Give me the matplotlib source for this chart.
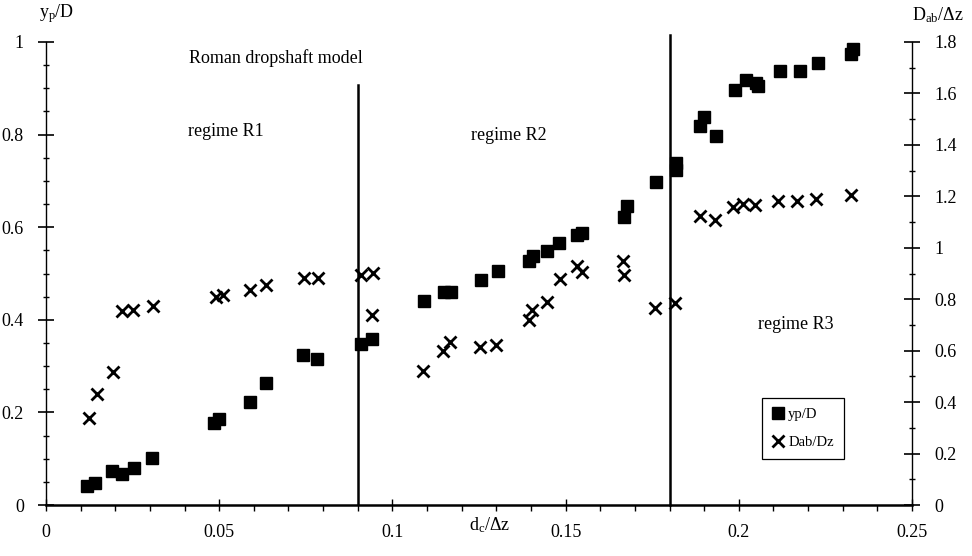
import matplotlib
matplotlib.use("Agg")
import matplotlib.pyplot as plt
from matplotlib.ticker import MultipleLocator

plt.rcParams['font.family'] = ['Liberation Serif', 'DejaVu Serif']
plt.rcParams['mathtext.fontset'] = 'custom'
plt.rcParams['mathtext.rm'] = 'Liberation Serif'
plt.rcParams['mathtext.it'] = 'Liberation Serif:italic'

# data: yp/D (left axis)
yp_x = [0.0118, 0.0142, 0.019, 0.022, 0.0253, 0.0307, 0.0485, 0.050, 0.059, 0.0635,
        0.0742, 0.0783, 0.0909, 0.094, 0.109, 0.1148, 0.1169, 0.1257, 0.1304, 0.1394,
        0.1406, 0.1447, 0.1481, 0.1534, 0.1547, 0.1668, 0.1676, 0.176, 0.1818, 0.182,
        0.1887, 0.190, 0.1934, 0.1989, 0.2022, 0.2051, 0.2055, 0.2119, 0.2177, 0.223,
        0.2325, 0.233]
yp_y = [0.041, 0.048, 0.073, 0.066, 0.079, 0.101, 0.178, 0.186, 0.223, 0.263,
        0.323, 0.315, 0.348, 0.358, 0.441, 0.459, 0.459, 0.487, 0.506, 0.528,
        0.538, 0.549, 0.565, 0.583, 0.588, 0.622, 0.645, 0.698, 0.738, 0.724,
        0.819, 0.839, 0.797, 0.896, 0.919, 0.912, 0.905, 0.938, 0.938, 0.955,
        0.975, 0.985]

# data: Dab/Dz (right axis)
dab_x = [0.0123, 0.0147, 0.0194, 0.022, 0.025, 0.031, 0.049, 0.051, 0.059, 0.0635,
         0.0745, 0.0786, 0.0909, 0.0945, 0.0942, 0.1087, 0.1145, 0.1167, 0.1254, 0.130,
         0.1394, 0.1402, 0.1445, 0.1483, 0.1534, 0.1547, 0.1665, 0.1670, 0.1757, 0.1815,
         0.1887, 0.1931, 0.1982, 0.2013, 0.2047, 0.2114, 0.2169, 0.2224, 0.2324]
dab_y = [0.337, 0.432, 0.517, 0.756, 0.760, 0.774, 0.810, 0.815, 0.837, 0.855,
         0.882, 0.882, 0.894, 0.901, 0.739, 0.522, 0.600, 0.635, 0.613, 0.622,
         0.719, 0.758, 0.790, 0.878, 0.929, 0.907, 0.950, 0.894, 0.765, 0.787,
         1.124, 1.108, 1.160, 1.170, 1.166, 1.182, 1.182, 1.189, 1.205]

regime_bounds = [0.09, 0.18]
x_ticks = [0, 0.05, 0.1, 0.15, 0.2, 0.25]
x_tick_labels = ['0', '0.05', '0.1', '0.15', '0.2', '0.25']
yl_ticks = [0, 0.2, 0.4, 0.6, 0.8, 1.0]
yl_tick_labels = ['0', '0.2', '0.4', '0.6', '0.8', '1']
yr_ticks = [0, 0.2, 0.4, 0.6, 0.8, 1.0, 1.2, 1.4, 1.6, 1.8]
yr_tick_labels = ['0', '0.2', '0.4', '0.6', '0.8', '1', '1.2', '1.4', '1.6', '1.8']

W, H = 972, 556
fig = plt.figure(figsize=(W / 100, H / 100), dpi=100)
ax = fig.add_axes([46 / W, 1 - 505 / H, (912 - 46) / W, (505 - 42) / H])
ax2 = ax.twinx()

ax.set_xlim(0, 0.25)
ax.set_ylim(0, 1)
ax2.set_ylim(0, 1.8)

for a in (ax, ax2):
    a.spines['top'].set_visible(False)
    for s in a.spines.values():
        s.set_linewidth(1.0)
        s.set_color('black')
ax.spines['right'].set_visible(False)
ax2.spines['left'].set_visible(False)
ax2.spines['bottom'].set_visible(False)
ax.spines['bottom'].set_linewidth(1.8)

# regime boundaries
ax.plot([regime_bounds[0]] * 2, [0, 0.907], color='black', lw=1.8, zorder=1)
ax.plot([regime_bounds[1]] * 2, [0, 1.015], color='black', lw=1.8, zorder=1,
        clip_on=False)

h1, = ax.plot(yp_x, yp_y, linestyle='none', marker='s', markersize=9,
              color='black', label='yp/D', zorder=3)
h2, = ax2.plot(dab_x, dab_y, linestyle='none', marker='x', markersize=9,
               markeredgewidth=2.0, color='black', label='Dab/Dz', zorder=3)

ax.set_xticks(x_ticks)
ax.set_xticklabels(x_tick_labels)
ax.xaxis.set_minor_locator(MultipleLocator(0.01))
ax.set_yticks(yl_ticks)
ax.set_yticklabels(yl_tick_labels)
ax.yaxis.set_minor_locator(MultipleLocator(0.05))
ax2.set_yticks(yr_ticks)
ax2.set_yticklabels(yr_tick_labels)
ax2.yaxis.set_minor_locator(MultipleLocator(0.1))

ax.tick_params(axis='x', which='major', direction='inout', length=8, width=1,
               labelsize=13, pad=10)
ax.tick_params(axis='x', which='minor', direction='out', length=4, width=1)
ax.tick_params(axis='y', which='major', direction='inout', length=12, width=1.2,
               labelsize=13, pad=10)
ax.tick_params(axis='y', which='minor', direction='inout', length=5, width=1)
ax2.tick_params(axis='y', which='major', direction='inout', length=12, width=1.2,
                labelsize=13, pad=10)
ax2.tick_params(axis='y', which='minor', direction='inout', length=5, width=1)

# axis titles
fig.text(57 / W, 1 - 14 / H, r'y$_\mathrm{p}$/D', ha='center', va='center', fontsize=13)
fig.text(938 / W, 1 - 15 / H, r'D$_\mathrm{ab}$/Δz', ha='center', va='center', fontsize=13)
fig.text(490 / W, 1 - 525 / H, r'd$_\mathrm{c}$/Δz', ha='center', va='center', fontsize=13)

# annotations
ax.text(0.0664, 0.965, 'Roman dropshaft model', ha='center', va='center', fontsize=13)
ax.text(0.0519, 0.806, 'regime R1', ha='center', va='center', fontsize=13)
ax.text(0.1337, 0.799, 'regime R2', ha='center', va='center', fontsize=13)
ax.text(0.2166, 0.389, 'regime R3', ha='center', va='center', fontsize=13)

leg = fig.legend([h1, h2], ['yp/D', 'Dab/Dz'], loc='upper left',
                 bbox_to_anchor=(762 / W, 1 - 398 / H), fontsize=10.5,
                 frameon=True, fancybox=False, edgecolor='black', framealpha=1,
                 handlelength=0.8, handletextpad=0.3, borderpad=0.7,
                 labelspacing=1.0, markerscale=0.9, borderaxespad=0)
leg.get_frame().set_linewidth(0.9)

fig.savefig('out.png', dpi=100)
